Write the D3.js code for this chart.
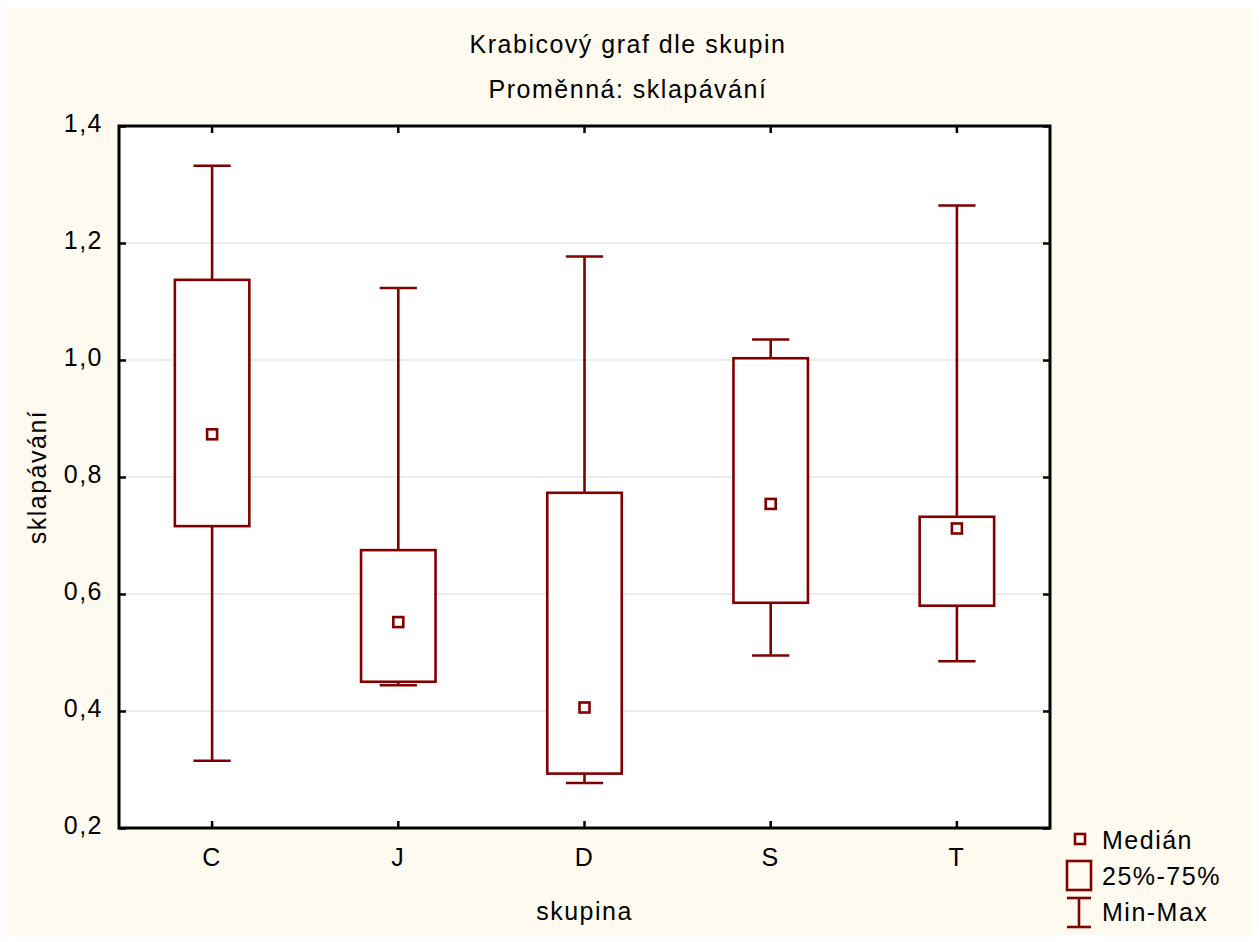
<!DOCTYPE html>
<html>
<head>
<meta charset="utf-8">
<script src="https://cdn.jsdelivr.net/npm/d3@7"></script>
<style>
  body { margin: 0; background: #ffffff; }
  text { font-family: "Liberation Sans", Arial, sans-serif; font-size: 25px; fill: #000; letter-spacing: 1.5px; }
</style>
</head>
<body>
<svg id="chart"></svg>
<script>
// Data
const groups = ['C', 'J', 'D', 'S', 'T'];
const minVals = [0.315, 0.444, 0.277, 0.495, 0.485];
const q1Vals = [0.716, 0.450, 0.293, 0.585, 0.580];
const medianVals = [0.873, 0.552, 0.406, 0.754, 0.712];
const q3Vals = [1.137, 0.675, 0.773, 1.003, 0.732];
const maxVals = [1.332, 1.123, 1.177, 1.035, 1.264];
const yTicks = [0.2, 0.4, 0.6, 0.8, 1.0, 1.2, 1.4];
const legendLabels = ['Medián', '25%-75%', 'Min-Max'];

const titleLines = ['Krabicový graf dle skupin', 'Proměnná: sklapávání'];
const xTitle = 'skupina';
const yTitle = 'sklapávání';

const boxColor = '#800000';
const width = 1259, height = 942;
const margin = { top: 126, right: 209, bottom: 114, left: 119 };
const innerW = width - margin.left - margin.right;
const innerH = height - margin.top - margin.bottom;

const data = groups.map((g, i) => ({
  group: g, min: minVals[i], q1: q1Vals[i], median: medianVals[i], q3: q3Vals[i], max: maxVals[i]
}));

const svg = d3.select('#chart')
    .attr('width', width)
    .attr('height', height);

// cream page background
svg.append('rect')
    .attr('x', 7).attr('y', 8)
    .attr('width', 1245).attr('height', 927)
    .attr('fill', '#fffaf0');

// titles
svg.selectAll('.title')
    .data(titleLines)
  .join('text')
    .attr('class', 'title')
    .attr('x', 628)
    .attr('y', (d, i) => 53 + i * 45)
    .attr('text-anchor', 'middle')
    .text(d => d);

const chart = svg.append('g')
    .attr('transform', `translate(${margin.left},${margin.top})`);

const xScale = d3.scaleBand()
    .domain(groups)
    .range([0, innerW])
    .padding(0);

const yScale = d3.scaleLinear()
    .domain([0.2, 1.4])
    .range([innerH, 0]);

const fmt = d => d3.format('.1f')(d).replace('.', ',');

// plot background
chart.append('rect')
    .attr('width', innerW)
    .attr('height', innerH)
    .attr('fill', '#ffffff');

// gridlines
chart.selectAll('.grid')
    .data(yTicks.slice(1, -1))
  .join('line')
    .attr('class', 'grid')
    .attr('x1', 0).attr('x2', innerW)
    .attr('y1', d => yScale(d)).attr('y2', d => yScale(d))
    .attr('stroke', '#d9d9d9')
    .attr('stroke-width', 1);

// axes
const yAxis = d3.axisLeft(yScale).tickValues(yTicks).tickFormat(fmt)
    .tickSizeInner(-7).tickSizeOuter(0).tickPadding(16);
const yAxisR = d3.axisRight(yScale).tickValues(yTicks).tickFormat('')
    .tickSizeInner(-7).tickSizeOuter(0);
const xAxis = d3.axisBottom(xScale).tickSizeInner(-7).tickSizeOuter(0).tickPadding(20);
const xAxisT = d3.axisTop(xScale).tickFormat('').tickSizeInner(-7).tickSizeOuter(0);

const yAxisG = chart.append('g').call(yAxis);
chart.append('g').attr('transform', `translate(${innerW},0)`).call(yAxisR);
const xAxisG = chart.append('g').attr('transform', `translate(0,${innerH})`).call(xAxis);
chart.append('g').call(xAxisT);

chart.selectAll('.domain').remove();
chart.selectAll('.tick line').attr('stroke', '#000').attr('stroke-width', 2.5);
yAxisG.selectAll('text').attr('dy', '0.22em').attr('font-size', null).attr('font-family', null);
xAxisG.selectAll('text').attr('font-size', null).attr('font-family', null);

// boxes
const bw = xScale.bandwidth();
const boxes = chart.selectAll('.box')
    .data(data)
  .join('g')
    .attr('class', 'box')
    .attr('transform', d => `translate(${xScale(d.group) + bw / 2},0)`);

boxes.append('line')
    .attr('x1', 0).attr('x2', 0)
    .attr('y1', d => yScale(d.min)).attr('y2', d => yScale(d.max))
    .attr('stroke', boxColor).attr('stroke-width', 2.6);

boxes.selectAll('.cap')
    .data(d => [d.min, d.max])
  .join('line')
    .attr('class', 'cap')
    .attr('x1', -bw * 0.1).attr('x2', bw * 0.1)
    .attr('y1', d => yScale(d)).attr('y2', d => yScale(d))
    .attr('stroke', boxColor).attr('stroke-width', 2.6);

boxes.append('rect')
    .attr('x', -bw * 0.2)
    .attr('width', bw * 0.4)
    .attr('y', d => yScale(d.q3))
    .attr('height', d => yScale(d.q1) - yScale(d.q3))
    .attr('fill', '#ffffff')
    .attr('stroke', boxColor).attr('stroke-width', 2.6);

boxes.append('rect')
    .attr('x', -5).attr('width', 10)
    .attr('y', d => yScale(d.median) - 5).attr('height', 10)
    .attr('fill', '#ffffff')
    .attr('stroke', boxColor).attr('stroke-width', 2.6);

// plot frame
chart.append('rect')
    .attr('width', innerW)
    .attr('height', innerH)
    .attr('fill', 'none')
    .attr('stroke', '#000')
    .attr('stroke-width', 3);

// axis titles
svg.append('text')
    .attr('x', margin.left + innerW / 2)
    .attr('y', 920)
    .attr('text-anchor', 'middle')
    .text(xTitle);

svg.append('text')
    .attr('transform', `translate(46,${margin.top + innerH / 2}) rotate(-90)`)
    .attr('text-anchor', 'middle')
    .text(yTitle);

// legend
const legend = svg.append('g').attr('transform', 'translate(1079,0)');

legend.append('rect')
    .attr('x', -4).attr('y', 834).attr('width', 10).attr('height', 10)
    .attr('fill', '#ffffff').attr('stroke', boxColor).attr('stroke-width', 2.6);

legend.append('rect')
    .attr('x', -12).attr('y', 861).attr('width', 24).attr('height', 29)
    .attr('fill', 'none').attr('stroke', boxColor).attr('stroke-width', 2.6);

legend.append('line')
    .attr('x1', 0).attr('x2', 0).attr('y1', 898).attr('y2', 927)
    .attr('stroke', boxColor).attr('stroke-width', 2.6);
legend.selectAll('.lcap')
    .data([898, 927])
  .join('line')
    .attr('class', 'lcap')
    .attr('x1', -12).attr('x2', 12)
    .attr('y1', d => d).attr('y2', d => d)
    .attr('stroke', boxColor).attr('stroke-width', 2.6);

legend.selectAll('.ltext')
    .data(legendLabels)
  .join('text')
    .attr('class', 'ltext')
    .attr('x', 23)
    .attr('y', (d, i) => [849, 885, 921][i])
    .text(d => d);
</script>
</body>
</html>
